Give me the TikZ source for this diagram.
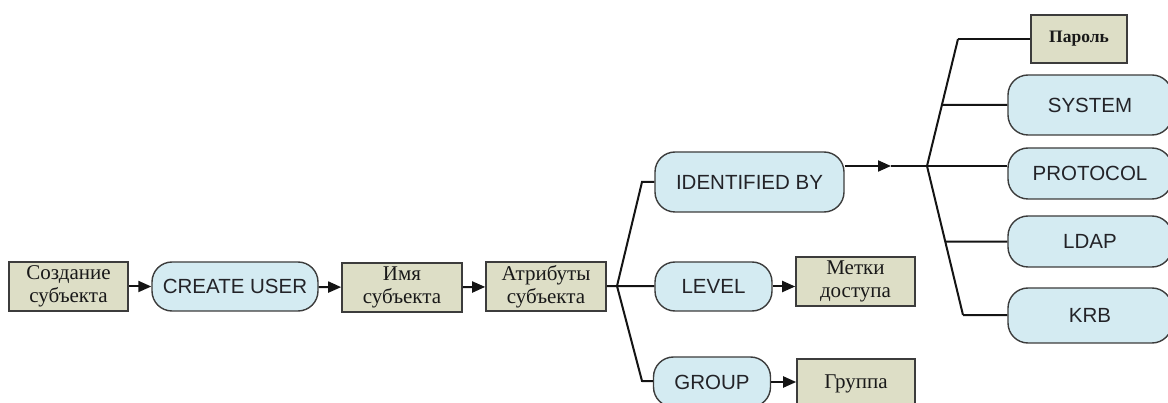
\documentclass[tikz,border=0pt]{standalone}
\usepackage{fontspec}
\setmainfont{Liberation Serif}
\newfontfamily\arialfont{Liberation Sans}
\usetikzlibrary{arrows.meta}
\definecolor{boxfill}{RGB}{221,222,198}
\definecolor{pillfill}{RGB}{212,235,242}
\definecolor{edgegray}{RGB}{60,60,60}
\definecolor{textgray}{RGB}{35,35,40}
\definecolor{linegray}{RGB}{20,20,20}
\begin{document}
\begin{tikzpicture}[x=1pt, y=-1pt, >={Triangle[length=13pt,width=11pt]}, line width=2pt, draw=linegray,
		box/.style = {draw=edgegray, fill=boxfill, line width=1.6pt, minimum width=119pt, minimum height=49pt, inner sep=0pt, align=center, text=black!90, font=\fontsize{21}{23}\selectfont},
		pill/.style = {draw=edgegray, fill=pillfill, line width=1.4pt, rounded corners=20pt, minimum width=117pt, minimum height=49pt, inner sep=0pt, text=textgray, font=\arialfont\fontsize{20.5}{23}\selectfont}]
			\useasboundingbox (0,0) rectangle (1168,403);
			\clip (0,0) rectangle (1168,403);
			
			\node[box] (subj) at (68.5,286.5) {Создание\\субъекта};
			\node[pill, minimum width=166pt] (create) at (235,286.5) {CREATE USER};
			\node[box, minimum width=120pt] (name) at (402,287.5) {Имя\\субъекта};
			\node[box, minimum width=120pt] (attr) at (546,286.5) {Атрибуты\\субъекта};
			
			\node[pill, minimum width=189pt, minimum height=60pt] (ident) at (749.5,182) {IDENTIFIED BY};
			\node[pill] (level) at (713.5,286.5) {LEVEL};
			\node[pill, minimum height=50pt] (group) at (712,382) {GROUP};
			\node[box] (marks) at (855.5,281.5) {Метки\\доступа};
			\node[box, minimum width=118pt, minimum height=50pt] (grp) at (856,384) {Группа};
			
			\node[box, minimum width=96pt, minimum height=48pt, font=\bfseries\fontsize{17.5}{20}\selectfont] (pass) at (1079,39) {Пароль};
			\node[pill, minimum width=164pt, minimum height=60pt] (system) at (1090,105) {SYSTEM};
			\node[pill, minimum width=164pt, minimum height=51pt] (protocol) at (1090,173.5) {PROTOCOL};
			\node[pill, minimum width=164pt, minimum height=51pt] (ldap) at (1090,241.5) {LDAP};
			\node[pill, minimum width=164pt, minimum height=55pt] (krb) at (1090,315.5) {KRB};
			
			\coordinate (fork1) at (617,286);
			\coordinate (forkA) at (642,182);
			\coordinate (forkB) at (642,381);
			\coordinate (tip) at (891,166);
			\coordinate (fork2) at (927,166);
			\coordinate (topend) at (958,39);
			\coordinate (botend) at (963,315);
			\coordinate (sysend) at (intersection of fork2--topend and system.west--system.center);
			\coordinate (ldapend) at (intersection of fork2--botend and ldap.west--ldap.center);
			
			\draw[->] (subj) -- (create);
			\draw[->] (create) -- (name);
			\draw[->] (name) -- (attr);
			
			\draw (attr) -- (fork1) -- (forkA) -- (ident);
			\draw (fork1) -- (level);
			\draw (fork1) -- (forkB) -- (group);
			\draw[->] (level) -- (marks.west |- level);
			\draw[->] (group) -- (grp.west |- group);
			
			\draw[->] (ident.east |- tip) -- (tip);
			\draw (tip) -- (fork2);
			\draw (topend) -- (fork2) -- (botend);
			\draw (topend) -- (pass);
			\draw (sysend) -- (system);
			\draw (fork2) -- (protocol.west |- fork2);
			\draw (ldapend) -- (ldap);
			\draw (botend) -- (krb);
		\end{tikzpicture}
\end{document}
